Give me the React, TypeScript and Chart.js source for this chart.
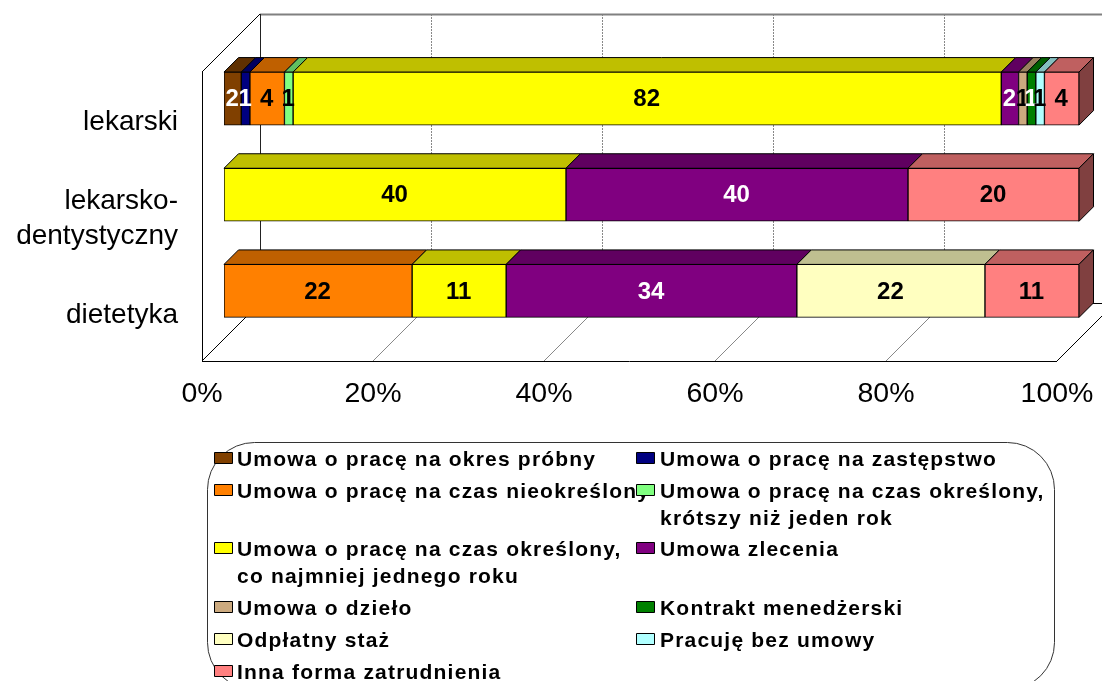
import React, { useEffect, useRef } from "react";
import { Chart, registerables } from "chart.js";

Chart.register(...registerables);

const categories: (string | string[])[] = ["lekarski", ["lekarsko-", "dentystyczny"], "dietetyka"];
const percentTicks = [0, 20, 40, 60, 80, 100];

const seriesLines: string[][] = [
  ["Umowa o pracę na okres próbny"],
  ["Umowa o pracę na zastępstwo"],
  ["Umowa o pracę na czas nieokreślony"],
  ["Umowa o pracę na czas określony,", "krótszy niż jeden rok"],
  ["Umowa o pracę na czas określony,", "co najmniej jednego roku"],
  ["Umowa zlecenia"],
  ["Umowa o dzieło"],
  ["Kontrakt menedżerski"],
  ["Odpłatny staż"],
  ["Pracuję bez umowy"],
  ["Inna forma zatrudnienia"],
];

const probny = [2, 0, 0];
const zastepstwo = [1, 0, 0];
const nieokreslony = [4, 0, 22];
const krotszy = [1, 0, 0];
const dluzszy = [82, 40, 11];
const zlecenie = [2, 40, 34];
const dzielo = [1, 0, 0];
const menedzerski = [1, 0, 0];
const staz = [0, 0, 22];
const bezUmowy = [1, 0, 0];
const inna = [4, 20, 11];

const seriesValues = [probny, zastepstwo, nieokreslony, krotszy, dluzszy, zlecenie, dzielo, menedzerski, staz, bezUmowy, inna];
const seriesRgb: number[][] = [
  [128, 64, 0], [0, 0, 128], [255, 128, 0], [128, 255, 128], [255, 255, 0], [128, 0, 128],
  [204, 170, 127], [0, 128, 0], [255, 255, 192], [176, 255, 255], [255, 128, 128],
];
const labelColors = ["#fff", "#fff", "#000", "#000", "#000", "#fff", "#000", "#fff", "#000", "#000", "#000"];

const FONT = '"Liberation Sans", Arial, sans-serif';
const WALL_DEPTH = 58;
const BAR_DEPTH = 14.5;
const AXIS_SHIFT = 22;

const totals = categories.map((_, c) => seriesValues.reduce((sum, s) => sum + s[c], 0));
const shade = (rgb: number[], f: number) => `rgb(${rgb.map((v) => Math.round(v * f)).join(",")})`;

const line = (ctx: CanvasRenderingContext2D, x1: number, y1: number, x2: number, y2: number) => {
  ctx.beginPath();
  ctx.moveTo(x1, y1);
  ctx.lineTo(x2, y2);
  ctx.stroke();
};
const poly = (ctx: CanvasRenderingContext2D, pts: number[][]) => {
  ctx.beginPath();
  pts.forEach((p, i) => (i ? ctx.lineTo(p[0], p[1]) : ctx.moveTo(p[0], p[1])));
  ctx.closePath();
  ctx.fill();
  ctx.stroke();
};

const wallsPlugin = {
  id: "walls",
  beforeDatasetsDraw(chart: any) {
    const { ctx, scales } = chart;
    const xs = scales.x;
    const top = chart.chartArea.top;
    const bottom = chart.chartArea.bottom;
    const fx = (v: number) => xs.getPixelForValue(v) - AXIS_SHIFT;
    const fy = bottom + AXIS_SHIFT;
    const by = fy - WALL_DEPTH;
    const wallTop = Math.floor(top + AXIS_SHIFT - WALL_DEPTH);
    ctx.save();
    ctx.lineWidth = 1;
    percentTicks.forEach((t) => {
      const x = Math.round(fx(t) + WALL_DEPTH) + 0.5;
      ctx.strokeStyle = "#888";
      ctx.setLineDash(t === 0 ? [] : [2, 1]);
      if (t > 0) line(ctx, x, wallTop, x, by);
      ctx.setLineDash([]);
      if (t > 0 && t < 100) line(ctx, fx(t), fy, fx(t) + WALL_DEPTH, by);
    });
    ctx.strokeStyle = "#808080";
    ctx.lineWidth = 2;
    line(ctx, fx(0) + WALL_DEPTH, wallTop + 0.5, chart.width, wallTop + 0.5);
    ctx.lineWidth = 1;
    ctx.strokeStyle = "#222";
    line(ctx, Math.round(fx(0) + WALL_DEPTH) + 0.5, wallTop, Math.round(fx(0) + WALL_DEPTH) + 0.5, by);
    ctx.strokeStyle = "#000";
    line(ctx, fx(0), wallTop + WALL_DEPTH, fx(0) + WALL_DEPTH, wallTop);
    line(ctx, fx(0) + 0.5, wallTop + WALL_DEPTH, fx(0) + 0.5, fy);
    line(ctx, fx(0), fy + 0.5, fx(100), fy + 0.5);
    line(ctx, fx(0), fy, fx(0) + WALL_DEPTH, by);
    line(ctx, fx(100), fy, fx(100) + WALL_DEPTH, by);
    line(ctx, fx(0) + WALL_DEPTH, by + 0.5, chart.width, by + 0.5);

    // side faces of the bars
    ctx.strokeStyle = "#000";
    chart.data.datasets.forEach((ds: any, d: number) => {
      const meta = chart.getDatasetMeta(d);
      meta.data.forEach((bar: any, c: number) => {
        if (ds.data[c] == null) return;
        const t = bar.y - bar.height / 2;
        const b = bar.y + bar.height / 2;
        const l = bar.base;
        const r = bar.x;
        ctx.fillStyle = shade(seriesRgb[d], 0.75);
        poly(ctx, [[l, t], [l + BAR_DEPTH, t - BAR_DEPTH], [r + BAR_DEPTH, t - BAR_DEPTH], [r, t]]);
        const last = !chart.data.datasets.slice(d + 1).some((o: any) => o.data[c] != null);
        if (last) {
          ctx.fillStyle = shade(seriesRgb[d], 0.5);
          poly(ctx, [[r, t], [r + BAR_DEPTH, t - BAR_DEPTH], [r + BAR_DEPTH, b - BAR_DEPTH], [r, b]]);
        }
      });
    });
    ctx.restore();
  },
};

const labelsPlugin = {
  id: "valueLabels",
  afterDatasetsDraw(chart: any) {
    const { ctx } = chart;
    ctx.save();
    ctx.font = `bold 24px ${FONT}`;
    ctx.textAlign = "center";
    ctx.textBaseline = "middle";
    chart.data.datasets.forEach((ds: any, d: number) => {
      chart.getDatasetMeta(d).data.forEach((bar: any, c: number) => {
        if (ds.data[c] == null) return;
        ctx.fillStyle = labelColors[d];
        ctx.fillText(String(seriesValues[d][c]), (bar.base + bar.x) / 2 - 0.5, bar.y + 1);
      });
    });
    ctx.restore();
  },
};

const legendRows = [459, 491, 549, 608, 640, 672];

const legendPlugin = {
  id: "boxLegend",
  afterDraw(chart: any) {
    const { ctx } = chart;
    ctx.save();
    ctx.strokeStyle = "#333";
    ctx.lineWidth = 1;
    ctx.beginPath();
    ctx.roundRect(207.5, 442.5, 847, 247, 47);
    ctx.stroke();
    ctx.font = `bold 21px ${FONT}`;
    (ctx as any).letterSpacing = "1.2px";
    ctx.textAlign = "left";
    ctx.textBaseline = "middle";
    seriesLines.forEach((lines, i) => {
      const col = i % 2;
      const cy = legendRows[Math.floor(i / 2)];
      const tx = col ? 660 : 237;
      ctx.fillStyle = "#000";
      lines.forEach((t, k) => ctx.fillText(t, tx, cy + 1 + k * 27));
    });
    seriesLines.forEach((_, i) => {
      const col = i % 2;
      const cy = legendRows[Math.floor(i / 2)];
      const sx = col ? 636.5 : 214.5;
      ctx.fillStyle = shade(seriesRgb[i], 1);
      ctx.strokeStyle = "#000";
      ctx.beginPath();
      ctx.rect(sx, cy - 6.5, 18, 11);
      ctx.fill();
      ctx.stroke();
    });
    ctx.restore();
  },
};

export default function App() {
  const ref = useRef<HTMLCanvasElement>(null);
  useEffect(() => {
    if (!ref.current) return;
    const chart = new Chart(ref.current, {
      type: "bar",
      data: {
        labels: categories as any,
        datasets: seriesValues.map((vals, d) => ({
          label: seriesLines[d].join(" "),
          data: vals.map((v, c) => (v ? (v / totals[c]) * 100 : null)),
          backgroundColor: shade(seriesRgb[d], 1),
          borderColor: "#000",
          borderWidth: 1,
          borderSkipped: false,
          barThickness: 53,
          stack: "s",
        })),
      } as any,
      options: {
        indexAxis: "y",
        animation: false,
        responsive: false,
        events: [],
        layout: { padding: { top: 50.5, right: 23, left: 0, bottom: 0 } },
        plugins: { legend: { display: false }, title: { display: false }, tooltip: { enabled: false } },
        scales: {
          x: {
            type: "linear",
            stacked: true,
            min: 0,
            max: 100,
            border: { display: false },
            grid: { display: false, drawTicks: false },
            afterFit: (s: any) => { s.height = 342; s.paddingLeft = 0; s.paddingRight = 0; },
            afterBuildTicks: (s: any) => { s.ticks = percentTicks.map((value) => ({ value })); },
            ticks: {
              autoSkip: false,
              maxRotation: 0,
              padding: 38,
              labelOffset: -AXIS_SHIFT,
              color: "#000",
              font: { family: FONT, size: 28.5 },
              callback: (v: any) => `${v}%`,
            },
          },
          y: {
            stacked: true,
            border: { display: false },
            grid: { display: false, drawTicks: false },
            afterFit: (s: any) => { s.width = 224; s.paddingTop = 0; s.paddingBottom = 0; },
            ticks: {
              autoSkip: false,
              padding: 46,
              labelOffset: AXIS_SHIFT + 2,
              color: "#000",
              font: { family: FONT, size: 28, lineHeight: 1.25 },
            },
          },
        },
      } as any,
      plugins: [wallsPlugin, labelsPlugin, legendPlugin],
    });
    return () => chart.destroy();
  }, []);
  return (
    <div style={{ position: "absolute", left: 0, top: 0, width: 1102, height: 681, overflow: "hidden", background: "#fff" }}>
      <canvas ref={ref} width={1102} height={681} style={{ display: "block" }} />
    </div>
  );
}
